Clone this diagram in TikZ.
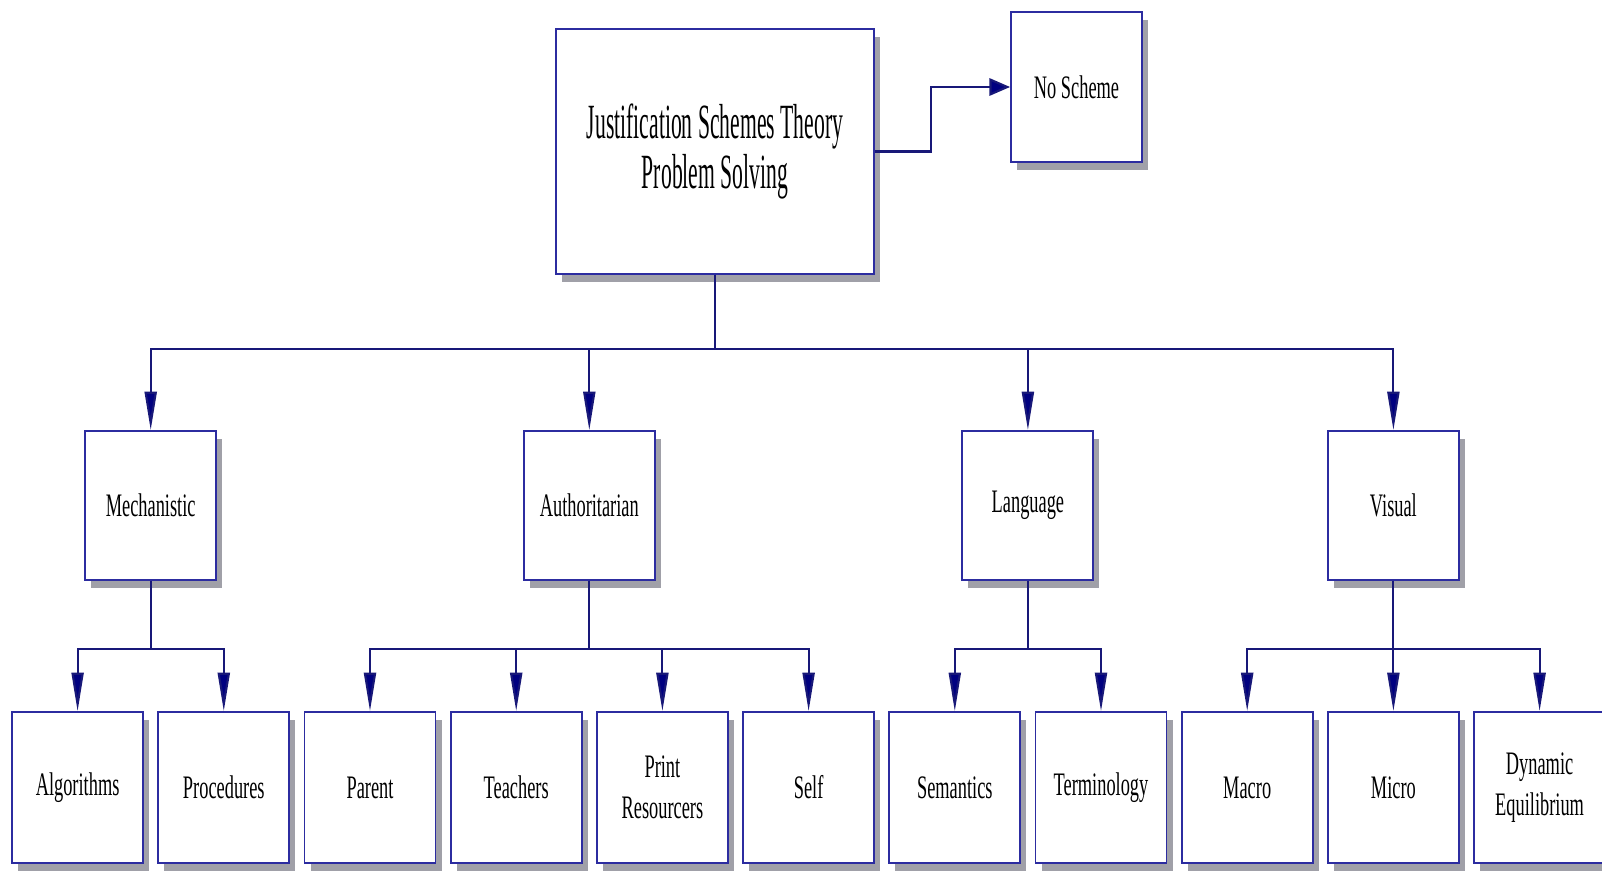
\documentclass[tikz,border=0pt]{standalone}
\usepackage{fontspec}
\setmainfont{Liberation Serif}[FakeStretch=0.56]
\newfontfamily\topfont{Liberation Serif}[FakeStretch=0.44]
\usepackage{tikz}
\usetikzlibrary{arrows.meta,shadows}
\definecolor{boxline}{RGB}{44,44,160}
\definecolor{conline}{RGB}{24,24,120}
\definecolor{tipfill}{RGB}{0,0,128}
\definecolor{shade}{RGB}{160,160,168}

\begin{document}
\begin{tikzpicture}[x=0.03cm, y=-0.03cm,
  scheme/.style={draw=boxline, line width=1.6pt, fill=white, inner sep=0pt,
    align=center, minimum width=3.93cm, font={\fontsize{28}{35}\selectfont},
    drop shadow={shadow xshift=0.18cm, shadow yshift=-0.24cm, fill=shade, opacity=1}},
  conn/.style={draw=conline, line width=1.8pt},
  down/.style={conn, -{Triangle[length=1.15cm, width=0.36cm, fill=tipfill]}}]
\useasboundingbox (0,0) rectangle (1602,871);
% root and side box
\node[scheme, minimum width=9.54cm, minimum height=7.35cm,
  font={\topfont\fontsize{42}{42}\selectfont}] (jst) at (715,151.5)
  {Justification Schemes Theory\\Problem Solving};
\node[scheme, minimum height=4.5cm] (nos) at (1076.5,87) {No Scheme};
% schemes
\node[scheme, minimum height=4.47cm] (mech) at (150.7,505.5) {Mechanistic};
\node[scheme, minimum height=4.47cm] (auth) at (589.3,505.5) {Authoritarian};
\node[scheme, minimum height=4.47cm] (lang) at (1027.9,505.5) {Language};
\node[scheme, minimum height=4.47cm] (vis) at (1393.4,505.5) {Visual};
% sub-schemes
\node[scheme, minimum height=4.53cm] (alg) at (77.6,787.5) {Algorithms};
\node[scheme, minimum height=4.53cm] (proc) at (223.8,787.5) {Procedures};
\node[scheme, minimum height=4.53cm] (par) at (370,787.5) {Parent};
\node[scheme, minimum height=4.53cm] (tea) at (516.2,787.5) {Teachers};
\node[scheme, minimum height=4.53cm] (prt) at (662.4,787.5) {Print\\Resourcers};
\node[scheme, minimum height=4.53cm] (slf) at (808.6,787.5) {Self};
\node[scheme, minimum height=4.53cm] (sem) at (954.8,787.5) {Semantics};
\node[scheme, minimum height=4.53cm] (ter) at (1101,787.5) {Terminology};
\node[scheme, minimum height=4.53cm] (mac) at (1247.2,787.5) {Macro};
\node[scheme, minimum height=4.53cm] (mic) at (1393.4,787.5) {Micro};
\node[scheme, minimum height=4.53cm] (dyn) at (1539.6,787.5) {Dynamic\\Equilibrium};
% root to no scheme
\draw[conn, -{Triangle[length=0.62cm, width=0.52cm, fill=tipfill]}]
  (jst.east) -- ++(56,0) |- (nos.west);
% root to schemes
\coordinate (b0) at (715,349);
\draw[down] (jst.south) -- (b0) -| (mech.north);
\draw[down] (jst.south) -- (b0) -| (auth.north);
\draw[down] (jst.south) -- (b0) -| (lang.north);
\draw[down] (jst.south) -- (b0) -| (vis.north);
% schemes to sub-schemes
\coordinate (b1) at (150.7,649);
\coordinate (b2) at (589.3,649);
\coordinate (b3) at (1027.9,649);
\coordinate (b4) at (1393.4,649);
\draw[down] (mech.south) -- (b1) -| (alg.north);
\draw[down] (mech.south) -- (b1) -| (proc.north);
\draw[down] (auth.south) -- (b2) -| (par.north);
\draw[down] (auth.south) -- (b2) -| (tea.north);
\draw[down] (auth.south) -- (b2) -| (prt.north);
\draw[down] (auth.south) -- (b2) -| (slf.north);
\draw[down] (lang.south) -- (b3) -| (sem.north);
\draw[down] (lang.south) -- (b3) -| (ter.north);
\draw[down] (vis.south) -- (b4) -| (mac.north);
\draw[down] (vis.south) -- (b4) -- (mic.north);
\draw[down] (vis.south) -- (b4) -| (dyn.north);
\end{tikzpicture}
\end{document}
